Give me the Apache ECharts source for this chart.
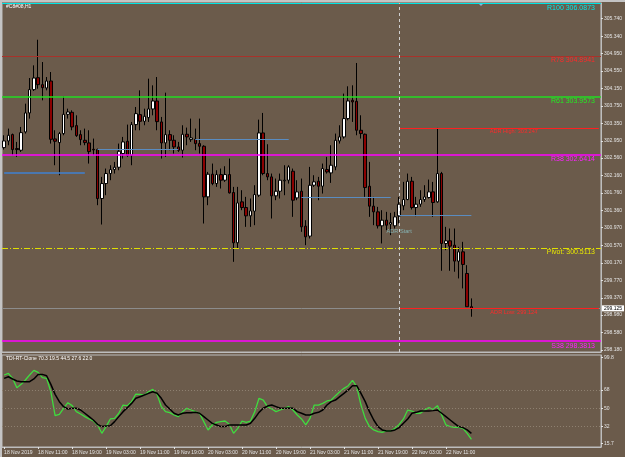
<!DOCTYPE html>
<html><head><meta charset="utf-8">
<script src="https://cdn.jsdelivr.net/npm/echarts@6/dist/echarts.min.js"></script>
<style>html,body{margin:0;padding:0;background:#6b5b4b;}#c{width:625px;height:457px;}</style>
</head><body><div id="c"></div>
<script>
// ---------- DATA ----------
const openP = [302.798,302.950,303.095,302.776,302.738,303.156,303.589,304.121,304.394,304.235,
304.159,304.318,302.996,302.912,303.118,303.558,303.604,303.300,303.095,302.966,
302.905,302.760,302.753,301.636,301.978,302.206,302.297,302.350,302.662,302.943,
302.624,303.323,303.551,303.399,303.482,303.680,303.862,303.384,302.905,303.095,
302.966,302.814,302.738,303.103,302.981,302.989,302.890,302.829,301.674,302.191,
301.978,302.183,302.054,302.183,301.773,300.626,301.560,301.431,301.241,301.347,
301.712,303.133,302.206,302.130,301.697,301.803,302.039,302.054,302.259,301.651,
301.803,301.006,300.778,301.940,302.031,301.917,302.297,302.221,302.358,302.951,
303.042,303.460,303.878,303.855,303.194,303.103,301.917,301.462,301.332,301.013,
301.142,301.051,301.013,301.241,301.469,301.613,302.031,301.431,301.507,301.613,
301.659,301.788,301.560,302.206,300.610,300.671,300.572,300.208,300.420,299.926,
299.167];
const highP = [303.080,303.232,303.118,302.928,303.270,303.801,304.386,304.675,305.260,304.751,
304.409,304.523,303.194,303.156,303.969,303.687,303.649,303.535,303.194,303.232,
303.194,303.004,302.776,302.130,302.320,302.396,302.472,302.890,303.042,303.323,
303.384,303.725,304.105,303.687,304.371,304.219,304.409,303.498,304.052,303.194,
303.080,302.928,303.308,303.255,303.460,303.232,303.460,302.852,302.244,302.434,
302.282,302.320,302.373,302.548,301.902,301.902,301.826,301.674,301.636,301.940,
303.437,303.589,302.875,302.206,302.092,302.206,302.396,302.396,302.320,302.054,
302.092,301.142,302.358,302.168,302.130,302.434,302.586,302.852,303.118,303.308,
304.030,304.197,304.220,304.729,303.536,303.118,302.472,301.674,301.446,301.370,
301.332,301.309,301.332,301.674,302.016,302.206,302.130,301.674,301.826,301.940,
302.069,302.016,303.247,302.244,300.990,300.952,300.952,300.534,300.648,300.116,
299.357];
const lowP = [302.753,302.852,302.624,302.586,302.700,303.118,303.460,304.090,304.143,303.877,
304.105,302.890,302.396,302.168,303.080,303.460,303.194,303.042,302.852,302.852,
302.434,302.624,301.484,301.043,301.712,302.054,302.206,302.282,302.548,302.586,
302.396,303.194,303.194,303.308,303.384,303.535,303.194,302.548,302.586,302.738,
302.662,302.700,302.571,302.852,302.928,302.738,302.662,301.066,301.484,301.940,
301.902,301.864,302.016,301.750,300.192,300.496,301.370,300.990,300.990,301.028,
301.674,302.168,302.054,301.180,301.598,301.636,301.712,301.978,301.218,301.598,
300.876,300.572,300.724,301.902,301.598,301.750,302.206,301.993,302.282,302.890,
303.004,303.422,303.384,303.080,303.004,301.674,301.218,301.028,300.952,300.611,
300.914,300.800,300.952,301.066,301.370,301.598,301.385,301.233,301.446,301.560,
301.636,301.218,301.537,299.987,300.458,299.987,299.965,299.813,299.585,299.167,
298.939];
const closeP = [302.950,303.080,302.753,302.753,303.140,303.589,304.121,304.386,304.235,304.166,
304.318,302.988,302.943,303.118,303.558,303.611,303.270,303.072,302.981,302.912,
302.707,302.745,301.636,301.978,302.206,302.297,302.350,302.715,302.928,302.624,
303.323,303.573,303.399,303.513,303.680,303.862,303.391,302.905,303.095,302.966,
302.814,302.738,303.103,303.042,303.019,302.890,302.829,301.674,302.191,301.978,
302.183,302.054,302.183,301.765,300.626,301.537,301.431,301.241,301.355,301.727,
303.133,302.206,302.130,301.697,301.803,302.054,302.054,302.358,301.598,301.788,
300.990,300.762,301.940,302.016,301.917,302.320,302.244,302.396,302.966,303.042,
303.460,303.863,303.840,303.194,303.118,301.887,301.462,301.332,301.013,301.142,
301.028,301.089,301.218,301.507,301.613,302.031,301.431,301.507,301.613,301.674,
301.788,301.545,302.206,300.610,300.671,300.550,300.208,300.420,300.132,299.167,
299.125];
const tdiFast = [82.8,84.4,79.5,70.3,73.6,77.9,82.8,87.4,85.4,80.2,
79.5,66.4,42.9,44.2,50.1,55.6,52.7,46.8,44.5,41.9,
39.6,37.6,33.7,25.5,32.1,39.6,40.2,45.2,53.3,52.7,
56.6,64.1,63.8,63.1,66.4,68.7,63.8,51.7,46.8,45.8,
43.5,41.9,46.8,50.1,48.4,46.8,45.2,37.0,28.8,33.7,
36.3,37.0,37.6,34.3,25.5,30.4,37.6,36.3,37.6,46.8,
59.9,58.2,51.7,49.4,46.8,48.4,50.1,51.7,48.4,43.5,
39.6,33.7,40.2,53.3,53.3,54.9,57.3,58.2,62.5,66.4,
69.7,72.3,77.5,71.3,53.3,40.2,32.1,28.8,27.2,26.5,
27.8,27.8,30.4,34.3,39.6,48.4,47.4,45.2,45.2,48.4,
50.7,49.1,52.7,43.5,33.7,32.1,31.4,31.4,30.4,25.5,
19.6];
const tdiSlow = [79.5,81.1,78.9,76.9,76.2,76.2,76.2,78.9,83.4,83.4,
82.1,73.6,63.8,56.6,51.7,49.4,50.1,50.1,48.4,45.2,
41.9,38.6,34.3,32.1,32.7,33.0,37.0,41.9,46.8,50.7,
54.9,59.9,61.5,63.1,64.8,66.4,64.8,59.9,53.3,49.4,
45.2,43.5,45.2,45.8,45.8,46.1,45.2,41.9,38.6,35.3,
33.7,32.1,32.1,33.7,33.7,33.7,33.7,33.7,35.3,40.2,
46.1,50.1,52.3,53.3,51.7,50.1,50.1,50.4,50.1,46.8,
45.2,43.5,43.5,45.2,46.1,48.4,53.3,56.6,58.2,61.5,
64.8,68.1,72.3,72.3,64.8,56.6,46.8,38.6,32.1,28.8,
27.8,27.8,28.8,31.1,35.3,39.6,45.2,46.1,47.4,47.4,
47.4,47.8,48.4,45.2,41.9,38.6,35.3,32.1,31.1,28.8,
25.5];
const priceTicks = [305.740,305.340,304.950,304.550,304.150,303.750,303.350,302.950,302.560,302.160,
301.760,301.360,300.970,300.570,300.170,299.770,299.370,298.980,298.580,298.180];
const tdiTicks = [99.8,68,50,32,15.7];
const tdiGuides = [68,50,32];
const timeTicks = ['18 Nov 2019','18 Nov 11:00','18 Nov 19:00','19 Nov 03:00','19 Nov 11:00','19 Nov 19:00',
'20 Nov 03:00','20 Nov 11:00','20 Nov 19:00','21 Nov 03:00','21 Nov 11:00','21 Nov 19:00','22 Nov 03:00','22 Nov 11:00'];
const levelNames = ['R100','R78','R61','R38','Pivot:','S38'];
const levelValues = [306.0873,304.8941,303.9573,302.6414,300.5113,298.3813];
const adrHigh = 303.247, adrLow = 299.124, bidPrice = 299.125;
const dayOpenValues = [302.230,302.754,302.982,301.667,301.250];
const dayOpenFrom = [0,22,45,70,93];
const dayOpenTo = [19,41,67,91,110];
const dayStartIndex = 93;
const symbolTitle = '#C8#08,H1';
const tdiTitle = 'TDI-RT-Clone 70.3 19.5 44.5 27.6 22.0';

// ---------- BUILD ----------
const SLOTS = 141;
const cats = [];
const t0 = Date.UTC(2019,10,18,3,0);
for (let i=0;i<SLOTS;i++){ const d=new Date(t0+i*3600000); cats.push(d.toISOString().slice(0,16)); }
const candles = openP.map((o,i)=>[o,closeP[i],lowP[i],highP[i]]);

const FONT = 'Liberation Sans';
const AX = '#e4e4e4';
const levelLine = ['#00e5e5','#a8322a','#22dd22','#ff00ff','#e0e000','#ff00ff'];
const levelText = ['#00e8e8','#ff2a2a','#22ee22','#ff22ff','#e8e800','#ff22ff'];
const levelType = ['solid','solid','solid','solid',[6,2,1,2],'solid'];
const levelWidth = [1,1.2,1.5,1.5,1,1.5];

const mlData = [];
mlData.push({yAxis: bidPrice, lineStyle:{color:'#8c8c8c',width:1,type:'solid'},
  label:{show:true,position:'end',distance:1,formatter:bidPrice.toFixed(3),color:'#000',backgroundColor:'#fff',
  padding:[1,2,0,2],fontSize:5,fontFamily:FONT}});
levelValues.forEach((v,i)=>{
  mlData.push({yAxis:v, lineStyle:{color:levelLine[i],width:levelWidth[i],type:levelType[i]},
   label:{show:true,position:'insideEndBottom',distance:[6,1],formatter:levelNames[i]+' '+v.toFixed(4),
   color:levelText[i],fontSize:7,fontFamily:FONT}});
});
dayOpenValues.forEach((v,i)=>{
  mlData.push([{coord:[dayOpenFrom[i],v],lineStyle:{color:i===0?'#3f80d0':'#5a8cc0',width:i===0?1.5:1,type:'solid'},label:{show:false}},
               {coord:[dayOpenTo[i],v]}]);
});
mlData.push([{coord:[dayStartIndex,adrHigh],lineStyle:{color:'#ff2020',width:1,type:'solid'},label:{show:false}},{coord:[SLOTS-1,adrHigh]}]);
mlData.push([{coord:[dayStartIndex,adrLow],lineStyle:{color:'#ff2020',width:1,type:'solid'},label:{show:false}},{coord:[SLOTS-1,adrLow]}]);
mlData.push({xAxis:dayStartIndex, lineStyle:{color:'#d0d0d0',width:1,type:[3,3]},label:{show:false}});

const mpData = [
  {coord:[120,adrHigh], label:{formatter:'ADR High: '+adrHigh.toFixed(3),position:'bottom',distance:1,color:'#ff2a2a',fontSize:5.6,fontFamily:FONT}},
  {coord:[120,adrLow], label:{formatter:'ADR Low: '+adrLow.toFixed(3),position:'bottom',distance:1,color:'#ff2a2a',fontSize:5.6,fontFamily:FONT}},
  {coord:[dayStartIndex,300.876], label:{formatter:'ADR Start',position:'inside',color:'#86b4b4',fontSize:5.6,fontFamily:FONT}}
];

const chart = echarts.init(document.getElementById('c'),null,{renderer:'canvas'});
chart.setOption({
  animation:false,
  backgroundColor:'#6b5b4b',
  grid:[
    {left:2,top:3,width:599,height:349,show:true,borderColor:'#bdbdbd',borderWidth:1,backgroundColor:'transparent'},
    {left:2,top:355,width:599,height:92,show:true,borderColor:'#bdbdbd',borderWidth:1,backgroundColor:'transparent'}
  ],
  xAxis:[
    {type:'category',gridIndex:0,data:cats,boundaryGap:true,axisLabel:{show:false},axisTick:{show:false},
     axisLine:{show:true,lineStyle:{color:'#bdbdbd'}},splitLine:{show:false}},
    {type:'category',gridIndex:1,data:cats,boundaryGap:true,
     axisLine:{show:true,lineStyle:{color:'#bdbdbd'}},splitLine:{show:false},
     axisTick:{show:true,alignWithLabel:true,length:2,lineStyle:{color:AX},interval:(i)=>i%8===0&&i/8<timeTicks.length},
     axisLabel:{show:true,interval:(i)=>i%8===0&&i/8<timeTicks.length,formatter:(v,i)=>timeTicks[i/8]||'',
       align:'left',color:AX,fontSize:5,fontFamily:FONT,margin:3}}
  ],
  yAxis:[
    {type:'value',gridIndex:0,position:'right',min:298.134,max:306.098,
     axisLine:{show:true,lineStyle:{color:'#bdbdbd'}},splitLine:{show:false},
     axisTick:{show:true,length:2,customValues:priceTicks,lineStyle:{color:AX}},
     axisLabel:{show:true,customValues:priceTicks,formatter:(v)=>v.toFixed(3),color:AX,fontSize:5,fontFamily:FONT,margin:3}},
    {type:'value',gridIndex:1,position:'right',min:12.06,max:102.45,
     axisLine:{show:true,lineStyle:{color:'#bdbdbd'}},splitLine:{show:false},
     axisTick:{show:true,length:2,customValues:tdiTicks,lineStyle:{color:AX}},
     axisLabel:{show:true,customValues:tdiTicks,formatter:(v)=>String(v),color:AX,fontSize:5,fontFamily:FONT,margin:3}}
  ],
  series:[
    {type:'candlestick',xAxisIndex:0,yAxisIndex:0,data:candles,barWidth:3,
     itemStyle:{color:'#ffffff',color0:'#8b0000',borderColor:'#000000',borderColor0:'#000000',borderWidth:1},
     markLine:{silent:true,symbol:['none','none'],data:mlData,animation:false},
     markPoint:{silent:true,symbol:'circle',symbolSize:0,data:mpData,label:{show:true},animation:false}},
    {type:'line',xAxisIndex:1,yAxisIndex:1,data:tdiFast,showSymbol:false,lineStyle:{color:'#3fdc3f',width:1.3}},
    {type:'line',xAxisIndex:1,yAxisIndex:1,data:tdiSlow,showSymbol:false,lineStyle:{color:'#000000',width:1.5},
     markLine:{silent:true,symbol:['none','none'],label:{show:false},
       lineStyle:{color:'#8e8070',type:[1,2],width:1},data:tdiGuides.map(v=>({yAxis:v})),animation:false}}
  ],
  graphic:[
    {type:'rect',shape:{x:0,y:0,width:625,height:2},style:{fill:'#c4c4c4'},silent:true},
    {type:'rect',shape:{x:0,y:0,width:2,height:457},style:{fill:'#c4c4c4'},silent:true},
    {type:'polygon',shape:{points:[[478,3],[484,3],[481,6]]},style:{fill:'#8ab4d8'},silent:true},
    {type:'text',left:6,top:4,style:{text:symbolTitle,fill:'#ffffff',font:'5px '+FONT}},
    {type:'text',left:6,top:356.5,style:{text:tdiTitle,fill:'#ffffff',font:'5px '+FONT}}
  ]
});
</script></body></html>
